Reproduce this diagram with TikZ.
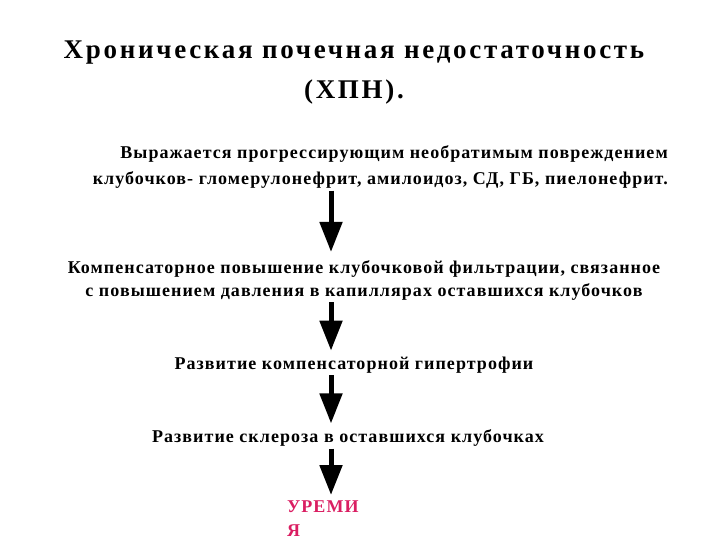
\documentclass[tikz,border=0pt]{standalone}
\usepackage{fontspec}
\setmainfont{Liberation Serif}
\newfontfamily\titlefont[LetterSpace=10]{Liberation Serif}
\newfontfamily\stagefont[LetterSpace=5.8]{Liberation Serif}
\usepackage{xcolor}
\usetikzlibrary{arrows.meta,positioning}
\definecolor{uremred}{RGB}{218,30,98}

\begin{document}
\begin{tikzpicture}
[x=1pt,y=-1pt]
\tikzset{
	heading/.style = {align=center, font=\titlefont\fontsize{27}{40}\selectfont\bfseries, inner sep=0},
	stage/.style = {align=center, font=\stagefont\fontsize{18}{23}\selectfont\bfseries, inner sep=0},
	flow/.style = {line width=5pt, -{Triangle[width=22pt,length=30pt]}}
}
\useasboundingbox (0,0) rectangle (720,540);

\node(title) [heading] at (354,73) {Хроническая почечная недостаточность\\(ХПН).};

\node(cause) [stage, align=right, anchor=east, font=\stagefont\fontsize{18}{26}\selectfont\bfseries] at (668,167)
	{Выражается прогрессирующим необратимым повреждением\\клубочков- гломерулонефрит, амилоидоз, СД, ГБ, пиелонефрит.};
\node(comp) [stage] at (364,280)
	{Компенсаторное повышение клубочковой фильтрации, связанное\\с повышением давления в капиллярах оставшихся клубочков};
\node(hyper) [stage] at (354,365) {Развитие компенсаторной гипертрофии};
\node(scler) [stage] at (348,438) {Развитие склероза в оставшихся клубочках};
\node(urem) [stage, align=left, anchor=north west, text=uremred, font=\stagefont\fontsize{18}{24}\selectfont\bfseries] at (287,501) {УРЕМИ\\Я};

\coordinate (axis) at (331,0);
\draw [flow] (cause.south -| axis) ++(0,2) -- ([yshift=8pt]comp.north -| axis);
\draw [flow] (comp.south -| axis) ++(0,2) -- ([yshift=6pt]hyper.north -| axis);
\draw [flow] (hyper.south -| axis) ++(0,2) -- ([yshift=6pt]scler.north -| axis);
\draw [flow] (scler.south -| axis) ++(0,2) -- ([yshift=6pt]urem.north -| axis);
\end{tikzpicture}
\end{document}
